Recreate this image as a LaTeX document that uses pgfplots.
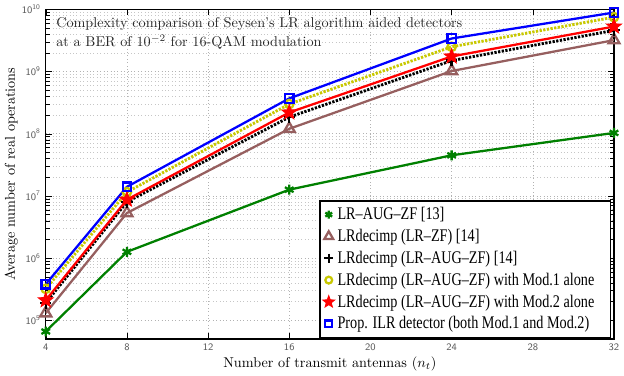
\documentclass[border=0pt]{standalone}
\usepackage{pgfplots}
\pgfplotsset{compat=1.18}
\usepackage{fontspec}
\newfontfamily\legfont[FakeStretch=0.8,Ligatures=TeX]{Liberation Serif}
\usetikzlibrary{plotmarks}
\definecolor{mgreen}{RGB}{0,128,0}
\definecolor{mbrown}{RGB}{150,95,95}
\definecolor{myellow}{RGB}{200,200,0}
\definecolor{tickgray}{RGB}{90,90,90}
\pgfdeclareplotmark{fstar}{%
  \pgfpathmoveto{\pgfpointpolar{90}{\pgfplotmarksize}}%
  \pgfpathlineto{\pgfpointpolar{126}{0.42\pgfplotmarksize}}%
  \pgfpathlineto{\pgfpointpolar{162}{\pgfplotmarksize}}%
  \pgfpathlineto{\pgfpointpolar{198}{0.42\pgfplotmarksize}}%
  \pgfpathlineto{\pgfpointpolar{234}{\pgfplotmarksize}}%
  \pgfpathlineto{\pgfpointpolar{270}{0.42\pgfplotmarksize}}%
  \pgfpathlineto{\pgfpointpolar{306}{\pgfplotmarksize}}%
  \pgfpathlineto{\pgfpointpolar{342}{0.42\pgfplotmarksize}}%
  \pgfpathlineto{\pgfpointpolar{18}{\pgfplotmarksize}}%
  \pgfpathlineto{\pgfpointpolar{54}{0.42\pgfplotmarksize}}%
  \pgfpathclose\pgfusepathqfillstroke}
\begin{document}
\begin{tikzpicture}
\begin{axis}[
  scale only axis, width=400pt, height=232pt,
  ymode=log, xmin=4, xmax=32, ymin=5e4, ymax=1e10,
  xtick={4,8,...,32},
  ytick={1e5,1e6,1e7,1e8,1e9,1e10},
  yticklabels={\textsf{10}\textsuperscript{\textsf{5}},\textsf{10}\textsuperscript{\textsf{6}},\textsf{10}\textsuperscript{\textsf{7}},\textsf{10}\textsuperscript{\textsf{8}},\textsf{10}\textsuperscript{\textsf{9}},\textsf{10}\textsuperscript{\textsf{10}}},
  xticklabel style={font=\sffamily\scriptsize, text=tickgray},
  yticklabel style={font=\sffamily\scriptsize, text=tickgray},
  /pgf/number format/assume math mode=true,
  xticklabel={\pgfmathprintnumber[assume math mode=true]{\tick}},
  grid=both,
  major grid style={gray!60, dotted},
  minor grid style={gray!45, dotted},
  axis line style={black, line width=0.8pt},
  tick style={black},
  xlabel={Number of transmit antennas ($n_t$)},
  ylabel={Average number of real operations},
  xlabel style={yshift=3pt},
  ylabel style={yshift=-4pt},
  every axis plot/.append style={line width=1.6pt},
  legend cell align=left,
  legend style={at={(rel axis cs:0.995,0.003)}, anchor=south east,
    draw=black, line width=0.8pt, font=\legfont\fontsize{12.5}{14}\selectfont, row sep=1.2pt,
    inner xsep=2pt, inner ysep=2.5pt, /tikz/every even column/.append style={column sep=0pt}},
  legend image code/.code={\draw[#1, scale=0.8] plot coordinates {(0.12cm,0cm)};},
]
\addplot[mgreen, mark=asterisk, mark size=3.5pt] coordinates {
 (4,6.6e4) (8,1.26e6) (16,1.26e7) (24,4.5e7) (32,1.03e8)};
\addlegendentry{LR\textendash AUG\textendash ZF [13]}
\addplot[mbrown, mark=triangle, mark size=4.5pt] coordinates {
 (4,1.3e5) (8,5.3e6) (16,1.2e8) (24,1.02e9) (32,3.2e9)};
\addlegendentry{LRdecimp (LR\textendash ZF) [14]}
\addplot[black, densely dotted, line width=2pt, mark=+, mark size=4pt, mark options={solid, line width=1.6pt}] coordinates {
 (4,1.9e5) (8,8e6) (16,1.85e8) (24,1.5e9) (32,4.6e9)};
\addlegendentry{LRdecimp (LR\textendash AUG\textendash ZF) [14]}
\addplot[myellow, densely dotted, line width=2pt, mark=o, mark size=3pt, mark options={solid, line width=1.6pt}] coordinates {
 (4,3.2e5) (8,1.15e7) (16,3e8) (24,2.5e9) (32,7.5e9)};
\addlegendentry{LRdecimp (LR\textendash AUG\textendash ZF) with Mod.1 alone}
\addplot[red, mark=fstar, mark size=5.5pt, mark options={fill=red, line width=0.6pt}] coordinates {
 (4,2.1e5) (8,8.7e6) (16,2.2e8) (24,1.75e9) (32,5.3e9)};
\addlegendentry{LRdecimp (LR\textendash AUG\textendash ZF) with Mod.2 alone}
\addplot[blue, mark=square, mark size=3pt] coordinates {
 (4,3.8e5) (8,1.4e7) (16,3.7e8) (24,3.4e9) (32,8.9e9)};
\addlegendentry{Prop. ILR detector (both Mod.1 and Mod.2)\rule{11pt}{0pt}}
\node[anchor=north west, align=left, font=\normalsize, text=black!85, inner sep=0pt]
  at (rel axis cs:0.018,0.975) {Complexity comparison of Seysen's LR algorithm aided detectors\\[1pt]at a BER of $10^{-2}$ for 16-QAM modulation};
\end{axis}
\end{tikzpicture}
\end{document}
